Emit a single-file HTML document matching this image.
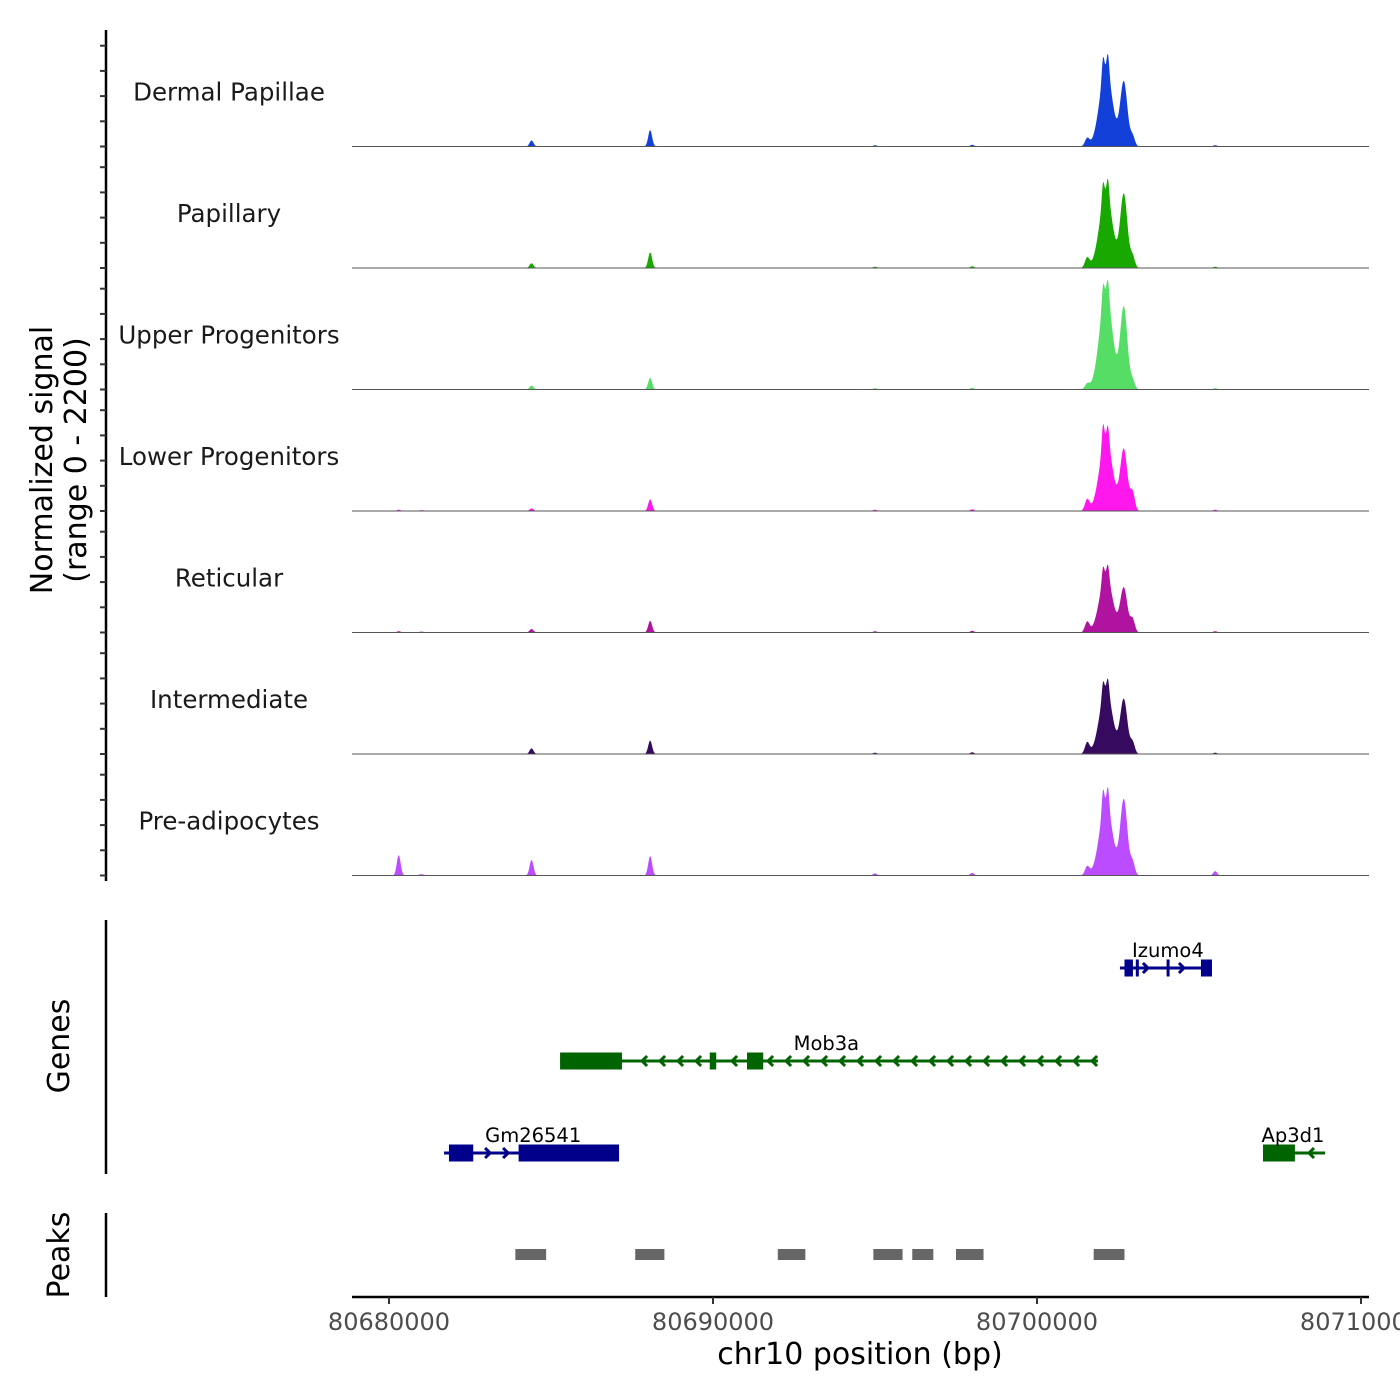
<!DOCTYPE html>
<html><head><meta charset="utf-8"><style>
html,body{margin:0;padding:0;background:#fff;}
svg{display:block;font-family:"DejaVu Sans","Liberation Sans",sans-serif;}
</style></head><body>
<svg id="chart" width="1400" height="1400" viewBox="0 0 1400 1400" xmlns="http://www.w3.org/2000/svg">
<g id="tracks"></g>
<g id="genes"></g>
<g id="peaks"></g>
<g id="axes"></g>
<text x="52" y="460" font-size="30" text-anchor="middle" transform="rotate(-90 52 460)">Normalized signal</text>
<text x="86" y="460" font-size="30" text-anchor="middle" transform="rotate(-90 86 460)">(range 0 - 2200)</text>
<text x="69" y="1046" font-size="30" text-anchor="middle" transform="rotate(-90 69 1046)">Genes</text>
<text x="69" y="1255" font-size="30" text-anchor="middle" transform="rotate(-90 69 1255)">Peaks</text>
<text x="860" y="1364" font-size="30" text-anchor="middle">chr10 position (bp)</text>
</svg>
<script>
const trackNames = ["Dermal Papillae","Papillary","Upper Progenitors","Lower Progenitors","Reticular","Intermediate","Pre-adipocytes"];
const trackColors = ["#1240d8","#19a800","#55dd66","#ff18ee","#b0139f","#360a5e","#bb4cff"];
// peak component centers (bp) and widths (bp)
const compCenters = [80680300,80684400,80688060,80701550,80702130,80702037,80702191,80702680,80702950,80698000,80695000,80705500,80681000];
const compWidths  = [60,60,60,70,200,40,40,110,70,60,60,60,80];
// heights in signal units (0-2200 per track)
const heights = [
 [0,140,380,180,1760,480,460,1480,230,40,30,30,10],
 [0,110,360,230,1700,450,440,1690,260,40,30,30,10],
 [0,90,270,120,2200,450,430,1880,200,40,30,30,10],
 [30,60,270,260,1650,520,400,1410,420,40,30,30,20],
 [30,80,270,240,1320,330,310,1020,300,40,30,30,20],
 [0,130,310,260,1480,340,330,1250,260,40,30,30,10],
 [470,360,450,200,1650,500,470,1740,300,60,50,100,30]
];
const xTicks = [80680000,80690000,80700000,80710000];
const peakStarts = [80683900,80687600,80692000,80694950,80696150,80697500,80701750];
const peakEnds   = [80684850,80688500,80692850,80695850,80696800,80698350,80702700];
const genes = [
 {name:"Izumo4",strand:"+",color:"#00008b",row:0,start:80702560,end:80705400,exons:[[80702700,80702960],[80703050,80703130],[80704000,80704060],[80705060,80705400]],label:80704040},
 {name:"Mob3a",strand:"-",color:"#006400",row:1,start:80685280,end:80701880,exons:[[80685280,80687190],[80689900,80690100],[80691050,80691550]],label:80693500},
 {name:"Gm26541",strand:"+",color:"#00008b",row:2,start:80681700,end:80687100,exons:[[80681850,80682600],[80684000,80687100]],label:80684450},
 {name:"Ap3d1",strand:"-",color:"#006400",row:2,start:80706975,end:80708890,exons:[[80706975,80707960]],label:80707900}
];
const NS="http://www.w3.org/2000/svg";
const X0=352,X1=1369;
function xs(bp){return 389+(bp-80680000)*0.0324;}
const trackH=121.5, base0=146.5;
function ys(v,i){return base0+i*trackH - v*(95/2200);}
function mk(tag,attrs,parent){const e=document.createElementNS(NS,tag);for(const k in attrs)e.setAttribute(k,attrs[k]);parent.appendChild(e);return e;}
const tg=document.getElementById('tracks');
trackNames.forEach((nm,i)=>{
  let d="M"+X0+","+ys(0,i);
  for(let px=X0;px<=X1;px+=0.5){
    const bp=80680000+(px-389)/0.0324;
    let v=0;
    for(let c=0;c<compCenters.length;c++){const z=(bp-compCenters[c])/compWidths[c];v+=heights[i][c]*Math.exp(-0.5*z*z);}
    d+=" L"+px.toFixed(1)+","+ys(v,i).toFixed(2);
  }
  d+=" L"+X1+","+ys(0,i)+" Z";
  const p=mk('path',{d:d,fill:trackColors[i]},tg);
  
  
  const l=mk('line',{x1:X0,x2:X1,y1:ys(0,i),y2:ys(0,i),stroke:"#555","stroke-width":1},tg);
  
  
  const t=mk('text',{x:229,y:ys(0,i)-46,"font-size":24.5,"text-anchor":"middle",fill:"#1a1a1a"},tg);
  t.textContent=nm;
  
  
});
const ax=document.getElementById('axes');
mk('line',{x1:106,x2:106,y1:30,y2:881,stroke:"#000","stroke-width":2.5},ax);
for(let i=0;i<7;i++){for(let k=0;k<5;k++){const y=ys(0,i)-k*25.2;mk('line',{x1:100,x2:106,y1:y,y2:y,stroke:"#333","stroke-width":2},ax);}}
mk('line',{x1:106,x2:106,y1:920,y2:1174,stroke:"#000","stroke-width":2.5},ax);
mk('line',{x1:106,x2:106,y1:1213,y2:1297,stroke:"#000","stroke-width":2.5},ax);
mk('line',{x1:X0,x2:X1,y1:1297,y2:1297,stroke:"#000","stroke-width":2.5},ax);
xTicks.forEach(v=>{const x=xs(v);mk('line',{x1:x,x2:x,y1:1297,y2:1304,stroke:"#333","stroke-width":2},ax);
  const t=mk('text',{x:x,y:1330,"font-size":24,"text-anchor":"middle",fill:"#4d4d4d"},ax);t.textContent=v;
  
  });
const gg=document.getElementById('genes');
const rowY=[968,1061,1153];
genes.forEach(g=>{
  const y=rowY[g.row];
  const grp=mk('g',{},gg);
  
  
  mk('line',{x1:xs(g.start),x2:xs(g.end),y1:y,y2:y,stroke:g.color,"stroke-width":3},grp);
  const step=18, a=5;
  for(let x=xs(g.start)+10;x<xs(g.end)-4;x+=step){
    const inEx=g.exons.some(e=>x>xs(e[0])-4&&x<xs(e[1])+4); if(inEx)continue;
    const dx=g.strand=="+"?a:-a;
    mk('polyline',{points:`${x-dx},${y-a} ${x},${y} ${x-dx},${y+a}`,fill:"none",stroke:g.color,"stroke-width":3},grp);
  }
  g.exons.forEach(e=>mk('rect',{x:xs(e[0]),y:y-8.5,width:Math.max(3,xs(e[1])-xs(e[0])),height:17,fill:g.color},grp));
  const t=mk('text',{x:xs(g.label),y:y-11,"font-size":19.5,"text-anchor":"middle",fill:"#000"},grp);t.textContent=g.name;
});
const pg=document.getElementById('peaks');
peakStarts.forEach((s,i)=>{const r=mk('rect',{x:xs(s),y:1249,width:xs(peakEnds[i])-xs(s),height:11,fill:"#666"},pg);
  
  });
</script>
</body></html>
